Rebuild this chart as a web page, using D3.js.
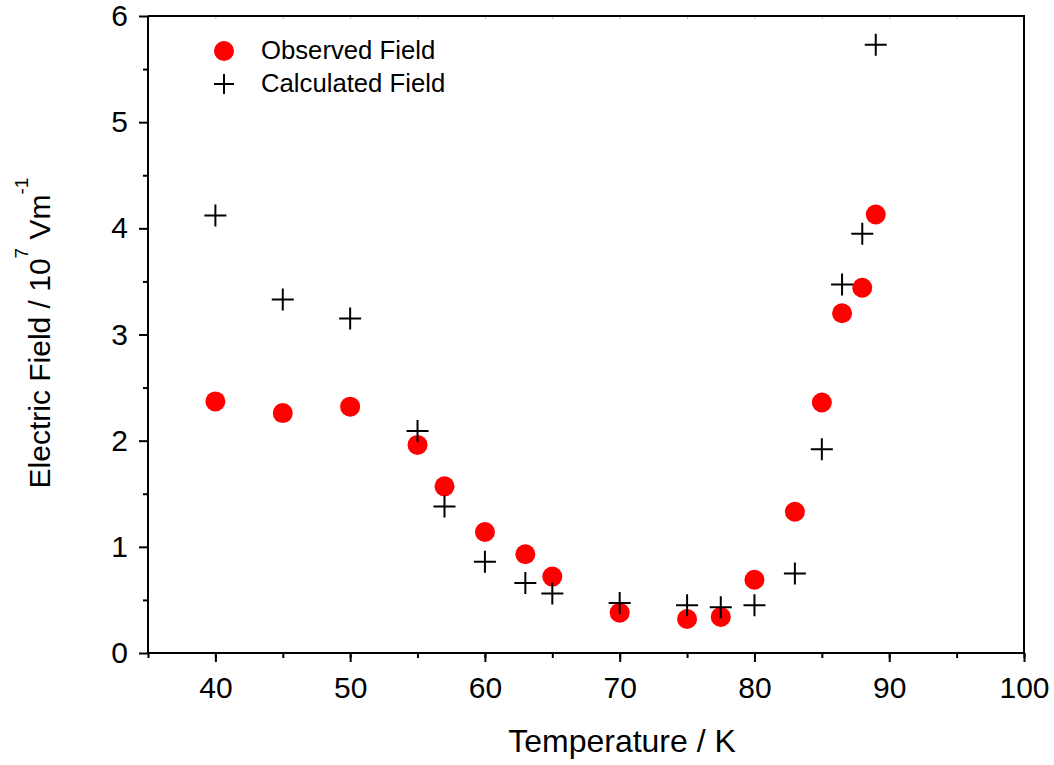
<!DOCTYPE html>
<html>
<head>
<meta charset="utf-8">
<script src="https://cdn.jsdelivr.net/npm/d3@7"></script>
<style>
  body { margin: 0; background: #fff; }
  text { font-family: Arial, "Liberation Sans", sans-serif; }
</style>
</head>
<body>
<svg id="chart" width="1054" height="765"></svg>
<script>
// Temperatures (K) where the field was measured
var temps = [40, 45, 50, 55, 57, 60, 63, 65, 70, 75, 77.5, 80, 83, 85, 86.5, 88, 89];
// Observed field, 10^7 V/m
var observed = [2.37, 2.26, 2.32, 1.96, 1.57, 1.14, 0.93, 0.72, 0.38, 0.32, 0.34, 0.69, 1.33, 2.36, 3.20, 3.44, 4.13];
// Calculated field, 10^7 V/m
var calculated = [4.12, 3.33, 3.15, 2.09, 1.38, 0.86, 0.66, 0.56, 0.47, 0.45, 0.43, 0.45, 0.75, 1.92, 3.47, 3.95, 5.73];

var xTicks = [40, 50, 60, 70, 80, 90, 100];
var yTicks = [0, 1, 2, 3, 4, 5, 6];

var svg = d3.select('#chart');
var margin = {l: 148, t: 16, r: 1024, b: 653};

var x = d3.scaleLinear().domain([35, 100]).range([margin.l, margin.r]);
var y = d3.scaleLinear().domain([0, 6]).range([margin.b, margin.t]);

// faint inner ticks on the top frame
svg.append('g')
    .attr('transform', 'translate(0,' + margin.t + ')')
    .call(d3.axisBottom(x).tickValues(d3.range(40, 100, 5)).tickSize(3).tickFormat(''))
    .call(function(g) {
        g.select('.domain').remove();
        g.selectAll('line').attr('stroke', '#bbb').attr('stroke-width', 1);
    });

// frame top and right
svg.append('path')
    .attr('d', 'M' + margin.l + ',' + margin.t + 'H' + margin.r + 'V' + margin.b)
    .attr('fill', 'none')
    .attr('stroke', '#000')
    .attr('stroke-width', 2);

// bottom axis: major + minor ticks
var xAxisG = svg.append('g').attr('transform', 'translate(0,' + margin.b + ')');
xAxisG.call(d3.axisBottom(x).tickValues(d3.range(35, 101, 5)).tickSize(5).tickFormat(''))
    .call(function(g) { g.select('.domain').remove(); });
xAxisG.append('g').call(d3.axisBottom(x).tickValues(xTicks).tickSize(9).tickPadding(15).tickFormat(d3.format('d')))
    .call(function(g) {
        g.select('.domain').remove();
        g.selectAll('text').attr('font-size', 30).attr('fill', '#000');
    });
xAxisG.selectAll('line').attr('stroke', '#000').attr('stroke-width', 2);

// left axis
var yAxisG = svg.append('g').attr('transform', 'translate(' + margin.l + ',0)');
yAxisG.call(d3.axisLeft(y).tickValues(d3.range(0.5, 6, 1)).tickSize(5).tickFormat(''))
    .call(function(g) { g.select('.domain').remove(); });
yAxisG.append('g').call(d3.axisLeft(y).tickValues(yTicks).tickSize(9).tickPadding(11).tickFormat(d3.format('d')))
    .call(function(g) {
        g.select('.domain').remove();
        g.selectAll('text').attr('font-size', 30).attr('fill', '#000');
    });
yAxisG.selectAll('line').attr('stroke', '#000').attr('stroke-width', 2);

// left and bottom axis lines
svg.append('path')
    .attr('d', 'M' + margin.l + ',' + margin.t + 'V' + margin.b + 'H' + margin.r)
    .attr('fill', 'none')
    .attr('stroke', '#000')
    .attr('stroke-width', 2);

// observed points
svg.append('g').selectAll('circle')
    .data(temps)
    .enter().append('circle')
    .attr('cx', function(d) { return x(d); })
    .attr('cy', function(d, i) { return y(observed[i]); })
    .attr('r', 10)
    .attr('fill', '#ff0000');

// calculated crosses
function plus(s) { return 'M' + (-s) + ',0H' + s + 'M0,' + (-s) + 'V' + s; }
svg.append('g').selectAll('path')
    .data(temps)
    .enter().append('path')
    .attr('transform', function(d, i) { return 'translate(' + x(d) + ',' + y(calculated[i]) + ')'; })
    .attr('d', plus(11))
    .attr('stroke', '#000')
    .attr('stroke-width', 2)
    .attr('fill', 'none');

// legend
var leg = svg.append('g');
leg.append('circle').attr('cx', 224).attr('cy', 51).attr('r', 10).attr('fill', '#ff0000');
leg.append('text').attr('x', 261).attr('y', 59).attr('font-size', 25.7).text('Observed Field');
leg.append('path').attr('transform', 'translate(224,84)').attr('d', plus(10))
    .attr('stroke', '#000').attr('stroke-width', 2).attr('fill', 'none');
leg.append('text').attr('x', 261).attr('y', 92).attr('font-size', 25.7).text('Calculated Field');

// axis titles
svg.append('text')
    .attr('x', 622)
    .attr('y', 752)
    .attr('text-anchor', 'middle')
    .attr('font-size', 32)
    .text('Temperature / K');

var yt = svg.append('text')
    .attr('transform', 'translate(50,333) rotate(-90)')
    .attr('text-anchor', 'middle')
    .attr('font-size', 30);
yt.append('tspan').text('Electric Field / 10');
yt.append('tspan').attr('font-size', 19).attr('dy', -22).text('7');
yt.append('tspan').attr('dy', 22).text(' Vm');
yt.append('tspan').attr('font-size', 19).attr('dy', -22).text('-1');
</script>
</body>
</html>
